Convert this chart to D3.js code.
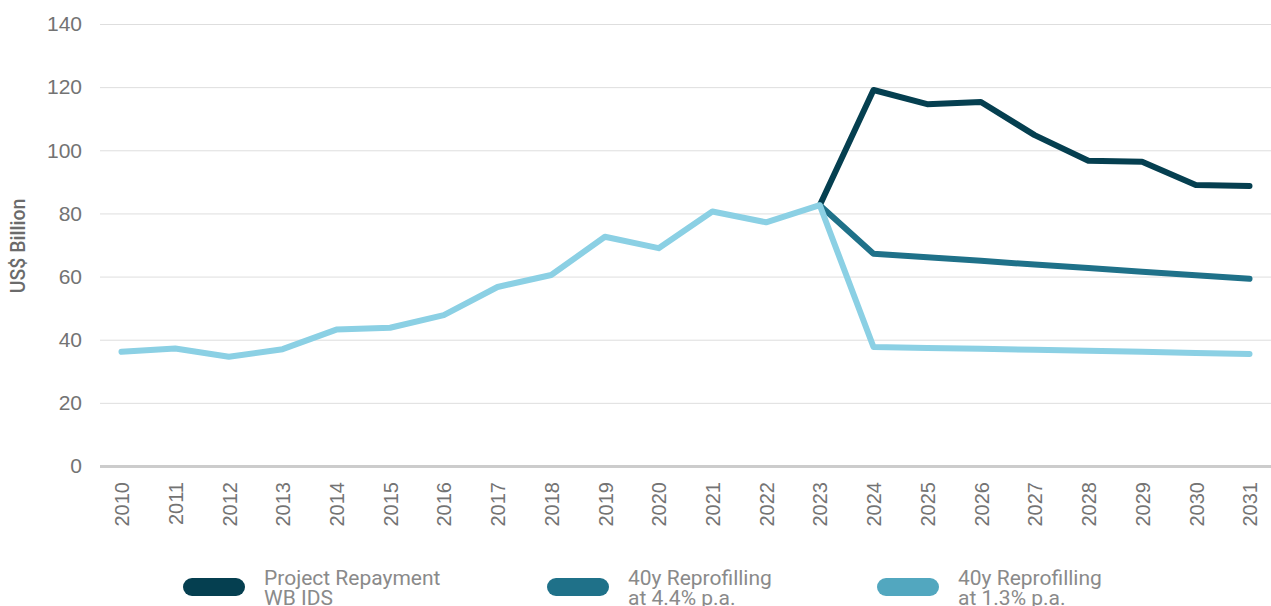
<!DOCTYPE html>
<html lang="en">
<head>
<meta charset="UTF-8">
<title>Repayment scenarios</title>
<style>
  body { margin: 0; background: #fff; }
  svg { display: block; font-family: Roboto, "Noto Sans", sans-serif; }
</style>
</head>
<body>
<svg></svg>
<script src="https://d3js.org/d3.v7.min.js"></script>
<script>
// data (US$ billion)
var years = [2010, 2011, 2012, 2013, 2014, 2015, 2016, 2017, 2018, 2019, 2020,
             2021, 2022, 2023, 2024, 2025, 2026, 2027, 2028, 2029, 2030, 2031];
var actuals = [36.2, 37.2, 34.6, 37.0, 43.2, 43.8, 47.8, 56.7, 60.5, 72.6, 69.0,
               80.6, 77.2, 82.6];
var projectRepayment = [119.1, 114.6, 115.3, 104.8, 96.7, 96.4, 89.0, 88.7];
var reprofiling44 = [67.2, 66.1, 65.0, 63.8, 62.7, 61.5, 60.4, 59.3];
var reprofiling13 = [37.7, 37.4, 37.1, 36.8, 36.5, 36.2, 35.8, 35.5];
var yTicks = [0, 20, 40, 60, 80, 100, 120, 140];

// the two upper scenarios only branch off from the last actual year
var gap = actuals.slice(0, -1).map(() => null);
var series = [
  { name: ['Project Repayment', 'WB IDS'], values: gap.concat(actuals.slice(-1), projectRepayment), line: '#053f50', key: '#053f50' },
  { name: ['40y Reprofilling', 'at 4.4% p.a.'], values: gap.concat(actuals.slice(-1), reprofiling44), line: '#1f7189', key: '#1f7189' },
  { name: ['40y Reprofilling', 'at 1.3% p.a.'], values: actuals.concat(reprofiling13), line: '#8bd0e4', key: '#52a7bf' }
];

var width = 1271, height = 606;
var mLeft = 100, mTop = 24, mBottom = 466;

var svg = d3.select('svg').attr('width', width).attr('height', height);

var x = d3.scalePoint().domain(years).range([mLeft, width]).padding(0.4);
var y = d3.scaleLinear().domain([0, 140]).range([mBottom, mTop]);

// gridlines + y labels
var yAxis = svg.append('g')
  .attr('transform', 'translate(' + mLeft + ',0)')
  .call(d3.axisLeft(y).tickValues(yTicks).tickSize(-(width - mLeft)).tickPadding(18));
yAxis.select('.domain').remove();
yAxis.selectAll('line').attr('stroke', d => d === 0 ? '#cccccc' : '#dedede')
  .attr('stroke-width', d => d === 0 ? 3 : 1);
yAxis.selectAll('text').attr('fill', '#737373').attr('font-size', 21);

svg.append('text')
  .attr('transform', 'translate(25,' + 246 + ') rotate(-90)')
  .attr('text-anchor', 'middle')
  .attr('fill', '#6b6b6b')
  .attr('font-size', 19.5)
  .attr('font-weight', 500)
  .text('US$ Billion');

// x axis labels, rotated
var xAxis = svg.append('g')
  .attr('transform', 'translate(0,' + mBottom + ')')
  .call(d3.axisBottom(x).tickSize(0).tickPadding(0));
xAxis.select('.domain').remove();
xAxis.selectAll('text')
  .attr('transform', 'rotate(-90)')
  .attr('text-anchor', 'end')
  .attr('dy', '0.36em')
  .attr('x', -16)
  .attr('y', 0)
  .attr('fill', '#737373')
  .attr('font-size', 20);

var line = d3.line()
  .defined(d => d != null)
  .x((d, i) => x(years[i]))
  .y(d => y(d))
  .curve(d3.curveLinear);

svg.selectAll('.series')
  .data(series)
  .enter()
  .append('path')
  .attr('class', 'series')
  .attr('d', d => line(d.values))
  .attr('fill', 'none')
  .attr('stroke', d => d.line)
  .attr('stroke-width', 6)
  .attr('stroke-linejoin', 'round')
  .attr('stroke-linecap', 'round');

// legend
var legendX = [183, 547, 877];
var legend = svg.selectAll('.legend')
  .data(series)
  .enter()
  .append('g')
  .attr('class', 'legend')
  .attr('transform', (d, i) => 'translate(' + legendX[i] + ',578)');

legend.append('rect')
  .attr('width', 62).attr('height', 18).attr('rx', 9)
  .attr('fill', d => d.key);

legend.append('text')
  .attr('x', 81)
  .attr('y', 7)
  .attr('fill', '#8a8a8a')
  .attr('font-size', 21)
  .selectAll('tspan')
  .data(d => d.name)
  .enter()
  .append('tspan')
  .attr('x', 81)
  .attr('dy', (d, i) => i === 0 ? 0 : 20)
  .text(d => d);
</script>
</body>
</html>
